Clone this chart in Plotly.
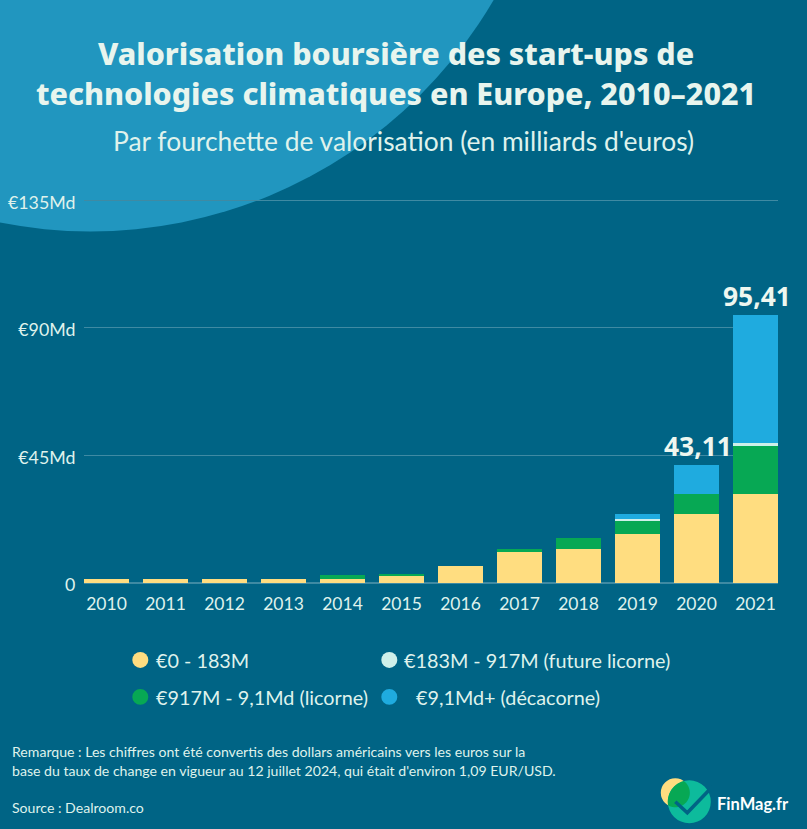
import numpy as np
import plotly.graph_objects as go

W, H = 807, 829
L, R, T, B = 83.7, 777.7, 198.58, 583.0

years = ["2010","2011","2012","2013","2014","2015","2016","2017","2018","2019","2020","2021"]
band_0_183 = [1.55,1.55,1.55,1.55,1.3,2.7,6.1,10.9,12.1,17.3,24.4,31.4]
band_917_9 = [0,0,0,0,1.4,0.35,0,1.2,3.7,4.8,6.9,17.1]
band_183_917 = [0,0,0,0,0,0,0,0,0,0.6,0,1.0]
band_9plus = [0,0,0,0,0,0,0,0,0,1.6,10.2,44.9]
tick_vals = [0,45,90,135]
tick_text = ["0","€45Md","€90Md","€135Md"]
total_labels = {"2020":"43,11","2021":"95,41"}

BG = "#006485"
TXT = "#dff2ec"
YEL, GRN, WHT, BLU = "#FFDD80", "#07A854", "#CFF0EA", "#1FABDF"
BODY = "Lato"
HEAD = "Noto Sans"

def px(x): return (x - L) / (R - L)
def py(y): return (B - y) / (B - T)

fig = go.Figure()
for name, vals, col in [("€0 - 183M", band_0_183, YEL), ("€917M - 9,1Md (licorne)", band_917_9, GRN),
                        ("€183M - 917M (future licorne)", band_183_917, WHT), ("€9,1Md+ (décacorne)", band_9plus, BLU)]:
    fig.add_bar(x=years, y=vals, name=name, marker=dict(color=col, line_width=0), showlegend=False)

def circle(cx, cy, r, col, layer="above"):
    return dict(type="circle", xref="paper", yref="paper", x0=px(cx-r), x1=px(cx+r), y0=py(cy+r), y1=py(cy-r),
                fillcolor=col, line_width=0, layer=layer)

def poly(pts, col=None, line=None, lw=0):
    d = "M " + " L ".join(f"{px(x):.5f},{py(y):.5f}" for x, y in pts)
    if col: d += " Z"
    return dict(type="path", xref="paper", yref="paper", path=d, fillcolor=col if col else "rgba(0,0,0,0)",
                line=dict(color=line or "rgba(0,0,0,0)", width=lw), layer="above")

shapes = [circle(90, -236, 467, "#2196BF", "below")]
for cx, cy, col in [(140,660,YEL),(389,660,WHT),(140,697,GRN),(389,697,BLU)]:
    shapes.append(circle(cx, cy, 8, col))

# logo
yc, yr = (675, 793), 14.5
tc, tr = (689, 802), 21.5
shapes.append(circle(*yc, yr, YEL))
shapes.append(circle(*tc, tr, "#0DBB9C"))
a = np.linspace(0, 2*np.pi, 240)
ring = [(yc[0]+yr*np.cos(t), yc[1]+yr*np.sin(t)) for t in a if np.hypot(yc[0]+yr*np.cos(t)-tc[0], yc[1]+yr*np.sin(t)-tc[1]) <= tr]
ring2 = [(tc[0]+tr*np.cos(t), tc[1]+tr*np.sin(t)) for t in a if np.hypot(tc[0]+tr*np.cos(t)-yc[0], tc[1]+tr*np.sin(t)-yc[1]) <= yr]
cen = (np.mean([p[0] for p in ring+ring2]), np.mean([p[1] for p in ring+ring2]))
lens = sorted(ring+ring2, key=lambda p: np.arctan2(p[1]-cen[1], p[0]-cen[0]))
shapes.append(poly(lens, GRN))
shapes.append(poly([(675,802),(687,813),(712,787)], None, BG, 3.5))

def ann(text, x, y, size, anchor="left", color=TXT, family=BODY, weight=None):
    return dict(text=text, xref="paper", yref="paper", x=px(x - (3 if anchor == "left" else 0)), y=py(y), xanchor=anchor, yanchor="middle", showarrow=False,
                font=dict(size=size, color=color, family=family, weight=weight or 400))

anns = [
    ann("Valorisation boursière des start-ups de", 396, 53, 30.4, "center", "#e8f5ee", HEAD, 800),
    ann("technologies climatiques en Europe, 2010–2021", 396, 93, 30.4, "center", "#e8f5ee", HEAD, 800),
    ann("Par fourchette de valorisation (en milliards d'euros)", 403.5, 141, 26.4, "center"),
    ann("€0 - 183M", 157, 660, 19.8), ann("€183M - 917M (future licorne)", 405, 660, 19.8),
    ann("€917M - 9,1Md (licorne)", 157, 697, 19.8), ann("€9,1Md+ (décacorne)", 417, 697, 19.8),
    ann("Remarque : Les chiffres ont été convertis des dollars américains vers les euros sur la", 13, 752, 14.1),
    ann("base du taux de change en vigueur au 12 juillet 2024, qui était d'environ 1,09 EUR/USD.", 13, 771, 14.1),
    ann("Source : Dealroom.co", 13, 808, 14.1),
    ann("FinMag.fr", 718, 804, 16.5, color="#ffffff", family=BODY, weight=700),
]
tot = np.array(band_0_183)+np.array(band_917_9)+np.array(band_183_917)+np.array(band_9plus)
for yr_, lab in total_labels.items():
    anns.append(dict(text=lab, x=years.index(yr_), y=float(tot[years.index(yr_)]), xref="x", yref="y", yanchor="bottom", showarrow=False,
                     xshift=1, yshift=-1, font=dict(size=26.4, color="#eef7f0", family=HEAD, weight=700)))

fig.update_layout(
    width=W, height=H, autosize=False, barmode="stack", bargap=14/59,
    margin=dict(l=L, r=W-R, t=T, b=H-B, pad=0),
    paper_bgcolor=BG, plot_bgcolor="rgba(0,0,0,0)",
    shapes=shapes, annotations=anns,
    font=dict(family=BODY, color=TXT),
    xaxis=dict(type="category", range=[-0.381, 11.381], showgrid=False, zeroline=False, showline=False,
               ticks="outside", ticklen=5, tickcolor="rgba(0,0,0,0)", tickfont=dict(size=17.5, color=TXT), automargin=False),
    yaxis=dict(range=[0,135.5], tickmode="array", tickvals=tick_vals, ticktext=tick_text, showgrid=True,
               gridcolor="#3F8AA3", gridwidth=1, zeroline=True, zerolinecolor="#3F8AA3",
               ticks="outside", ticklen=4, tickcolor="rgba(0,0,0,0)",
               tickfont=dict(size=17.8, color=TXT), ticklabelshift=2, automargin=False),
)
fig.write_html("out.html", config=dict(displayModeBar=False),
               post_script="document.body.style.margin='0';document.documentElement.style.overflow='hidden';")
